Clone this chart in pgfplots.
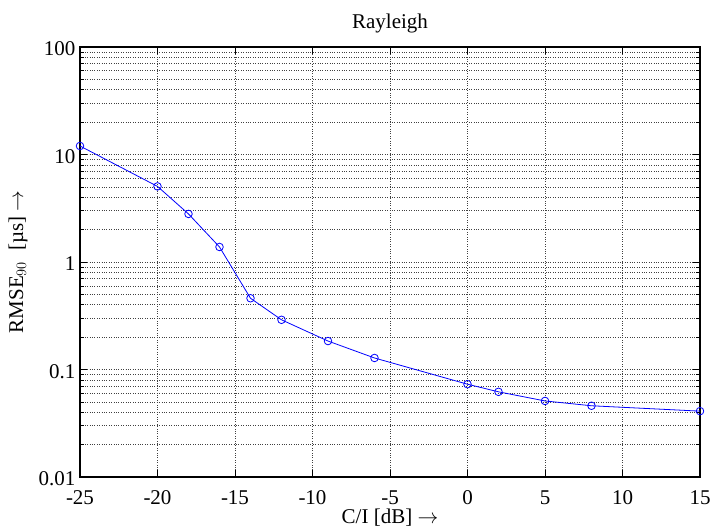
\documentclass[border=0pt]{standalone}
\usepackage{fontspec}
\setmainfont{Liberation Serif}
\usepackage{pgfplots}
\pgfplotsset{compat=1.18}
\begin{document}
\begin{tikzpicture}[x=1pt,y=1pt]
\begin{semilogyaxis}[
  scale only axis,
  width=620pt, height=430pt,
  xmin=-25, xmax=15, ymin=0.01, ymax=100,
  xtick={-25,-20,-15,-10,-5,0,5,10,15},
  xticklabels={-25,-20,-15,-10,-5,0,5,10,15},
  ytick={0.01,0.1,1,10,100},
  yticklabels={0.01,0.1,1,10,100},
  /pgf/number format/assume math mode=true,
  tick label style={font=\fontsize{21pt}{25pt}\selectfont},
  xticklabel style={yshift=-10pt},
  yticklabel style={xshift=-1pt, yshift=-2pt},
  label style={font=\fontsize{21pt}{25pt}\selectfont},
  title style={font=\fontsize{21pt}{25pt}\selectfont},
  tick align=inside,
  xtick pos=both, ytick pos=both,
  major tick length=7pt, minor tick length=4pt,
  grid=both,
  major grid style={black!75, dotted, line width=0.7pt},
  minor grid style={black!75, dotted, line width=0.7pt},
  axis line style={line width=1.1pt},
  every tick/.style={black, line width=0.7pt},
  title={Rayleigh},
  xlabel={C/I [dB] $\rightarrow$},
  ylabel={RMSE$_{90}$\ \ [µs] $\rightarrow$},
  xlabel style={at={(axis description cs:0.5,0)}, anchor=center, yshift=-41pt},
  ylabel style={at={(axis description cs:0,0.5)}, anchor=center, rotate=0, yshift=62pt},
  title style={at={(axis description cs:0.5,1)}, anchor=center, yshift=18pt},
]
\coordinate (ll) at (rel axis cs:0,0);
\coordinate (ur) at (rel axis cs:1,1);
\addplot[blue, line width=0.8pt, mark=o, mark size=3.8pt, mark options={solid, line width=0.8pt}] coordinates {
(-25,12.0) (-20,5.05) (-18,2.8) (-16,1.38) (-14,0.46) (-12,0.29) (-9,0.184) (-6,0.128) (0,0.073) (2,0.062) (5,0.051) (8,0.046) (15,0.041)
};
\end{semilogyaxis}
\pgfresetboundingbox
\path ([shift={(-80pt,-51pt)}]ll) rectangle ([shift={(10pt,47pt)}]ur);
\end{tikzpicture}
\end{document}
